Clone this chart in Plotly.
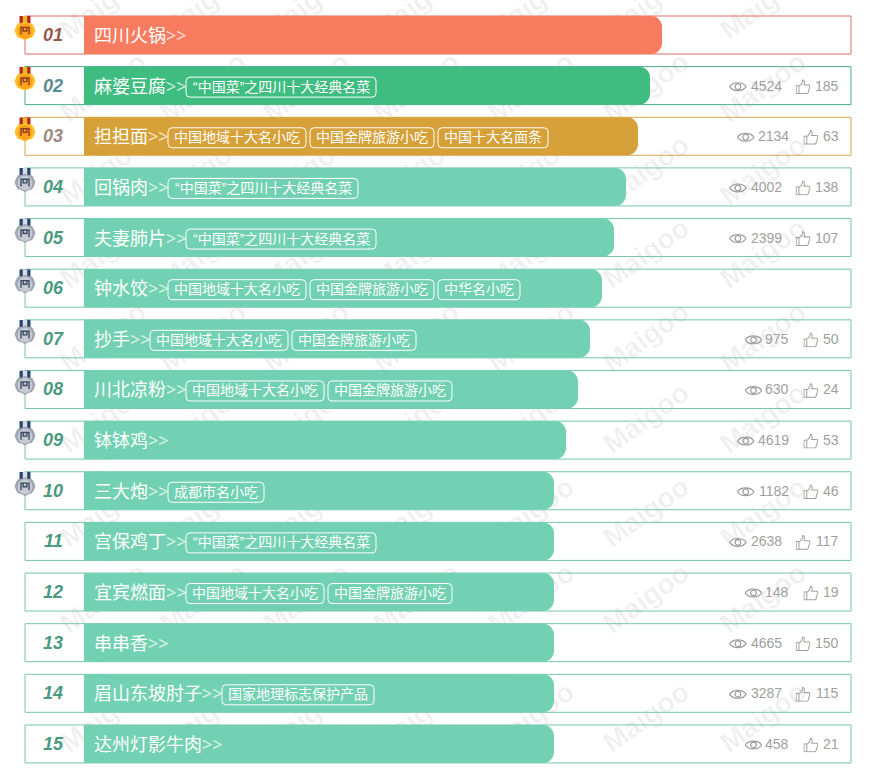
import base64
import plotly.graph_objects as go

# ---------- data ----------
ranks = ["01","02","03","04","05","06","07","08","09","10","11","12","13","14","15"]
names = ["四川火锅","麻婆豆腐","担担面","回锅肉","夫妻肺片","钟水饺","抄手","川北凉粉","钵钵鸡","三大炮",
         "宫保鸡丁","宜宾燃面","串串香","眉山东坡肘子","达州灯影牛肉"]
CAI = "“中国菜”之四川十大经典名菜"
DY = "中国地域十大名小吃"
JP = "中国金牌旅游小吃"
tags = [[],[CAI],[DY,JP,"中国十大名面条"],[CAI],[CAI],[DY,JP,"中华名小吃"],[DY,JP],[DY,JP],[],
        ["成都市名小吃"],[CAI],[DY,JP],[],["国家地理标志保护产品"],[]]
bar_values = [578,566,554,542,530,518,506,494,482,470,470,470,470,470,470]
views = [None,4524,2134,4002,2399,None,975,630,4619,1182,2638,148,4665,3287,458]
likes = [None,185,63,138,107,None,50,24,53,46,117,19,150,115,21]

TEAL = "#72d1b2"
bar_colors = ["#f77b5f","#3fbd80","#d6a138"] + [TEAL]*12
border_colors = ["#dd6f66","#46ad88","#d3a74f"] + ["#74c6ad"]*12
rank_colors = ["#96594e","#5a8a93","#9c8a82"] + ["#4a9a80"]*12

wm_x = [103,203,306,416,531,646,763]
wm_y = [4,87,170,253,337,418,512,598,717]

# ---------- layout constants (pixels) ----------
W, H = 875, 775
PITCH = 50.64
Y0 = -35/PITCH
BOX_L, BOX_W, BAR_L = 25, 826, 84
ROW_H = 38
SQUARE_END = 24
def dy(px): return px/PITCH
def py(px): return px/PITCH + Y0

rows = list(range(len(names)))
fig = go.Figure()

# watermark (drawn first so that bars cover it)
wx, wyy = [], []
for yy in wm_y:
    for xx in wm_x:
        wx.append(xx); wyy.append(py(yy))
fig.add_bar(x=[2]*len(wx), base=[v-1 for v in wx], y=wyy, orientation="h", width=0.5,
            marker=dict(color="rgba(0,0,0,0)", line=dict(width=0)),
            text=["<b>Maigoo</b>"]*len(wx), textposition="inside", insidetextanchor="middle",
            textangle=-36, constraintext="none", cliponaxis=True,
            insidetextfont=dict(family="Liberation Sans", size=28, color="rgba(0,0,0,0.06)"),
            hoverinfo="skip", showlegend=False)

# row frames
fig.add_bar(x=[BOX_W]*15, base=[BOX_L]*15, y=rows, orientation="h", width=dy(ROW_H),
            marker=dict(color="rgba(0,0,0,0)", line=dict(color=border_colors, width=1)),
            hoverinfo="skip", showlegend=False)
# coloured bars: rounded body plus a square-cornered left end
fig.add_bar(x=bar_values, base=[BAR_L]*15, y=rows, orientation="h", width=dy(ROW_H),
            marker=dict(color=bar_colors, line=dict(width=0), cornerradius=11),
            hovertext=names, hoverinfo="text", showlegend=False)
fig.add_bar(x=[SQUARE_END]*15, base=[BAR_L]*15, y=rows, orientation="h", width=dy(ROW_H),
            marker=dict(color=bar_colors, line=dict(width=0), cornerradius=0),
            hoverinfo="skip", showlegend=False)

# ---------- icons ----------
def uri(svg):
    return "data:image/svg+xml;base64," + base64.b64encode(svg.encode()).decode()

EYE = uri('<svg xmlns="http://www.w3.org/2000/svg" width="36" height="24" viewBox="0 0 18 12">'
          '<path d="M0.8 6 C4 0.8 14 0.8 17.2 6 C14 11.2 4 11.2 0.8 6 Z" fill="none" stroke="#9c9c9c" stroke-width="1.2"/>'
          '<circle cx="9" cy="6" r="2.8" fill="none" stroke="#9c9c9c" stroke-width="1.2"/></svg>')
THUMB = uri('<svg xmlns="http://www.w3.org/2000/svg" width="32" height="32" viewBox="0 0 16 16">'
            '<path d="M0.6 7 H3.6 V15.3 H0.6 Z M3.6 7.2 C6 6 7.4 4 7.4 0.8 C9.3 0.6 9.9 3 8.9 6.2 H14.2 C15.4 6.2 15.6 7.4 15.2 8.2 L13.4 14.4 C13.2 15 12.7 15.3 12 15.3 H3.6" '
            'fill="none" stroke="#a6a09c" stroke-width="1.1"/></svg>')
def medal(r1, r2, c1, c2, c3):
    return uri('<svg xmlns="http://www.w3.org/2000/svg" width="44" height="56" viewBox="0 0 22 28">'
               f'<rect x="5.5" y="0" width="11" height="12" fill="{r1}"/>'
               f'<rect x="8.8" y="0" width="4.4" height="12" fill="{r2}"/>'
               f'<path d="M11 5.5 L14.4 7 L18 7.4 L20 10.6 L21.4 14.5 L20 18.4 L18 21.6 L14.4 22.4 L11 24.4 L7.6 22.4 L4 21.6 L2 18.4 L0.6 14.5 L2 10.6 L4 7.4 L7.6 7 Z" fill="{c1}"/>'
               f'<circle cx="11" cy="15" r="7.4" fill="{c2}"/>'
               f'<path d="M7 18.6 V11.4 H15 V18.6 M9.2 11.4 V15 H12.8 V11.4" fill="none" stroke="{c3}" stroke-width="1.4"/></svg>')
GOLD = medal("#b8261c","#e7b92f","#fbc02a","#ffa11a","#8e3d22")
SILVER = medal("#2c4570","#d9dde6","#a2a6b2","#c6cad3","#3f4c66")

images, shapes, ann = [], [], []
def icon(src, x, cy, w, h):
    images.append(dict(source=src, xref="x", yref="y", x=x, y=cy, sizex=w, sizey=dy(h),
                       xanchor="left", yanchor="middle", sizing="stretch", layer="above"))
def label(text, x, cy, size, color, family, anchor="left"):
    ann.append(dict(text=text, x=x, y=cy, xref="x", yref="y", xanchor=anchor, yanchor="middle",
                    showarrow=False, font=dict(family=family, size=size, color=color),
                    borderpad=0, borderwidth=0))

CJK = "Liberation Sans, Noto Sans CJK SC"
def tag_width(t):
    return sum(5 if c in "“”" else 14 for c in t) + 12

for i in rows:
    # rank number
    label(f"<b><i>{ranks[i]}</i></b>", 53, i, 18, rank_colors[i], "Liberation Sans", "center")
    # name with chevrons
    label(names[i] + "<span style='font-family:Noto Sans;color:rgba(255,255,255,0.75)'>&gt;&gt;</span>",
          94, i + dy(-1), 18, "#ffffff", "Noto Sans CJK SC")
    # tags
    tx = 94 + 18*len(names[i]) + 20
    for t in tags[i]:
        w = tag_width(t)
        c = i + dy(1.5)
        hh, r, rr = dy(10), 4, dy(4)
        x0, x1 = tx, tx + w
        shapes.append(dict(type="path", xref="x", yref="y", layer="above",
                           path=(f"M{x0+r},{c-hh} L{x1-r},{c-hh} Q{x1},{c-hh} {x1},{c-hh+rr} "
                                 f"L{x1},{c+hh-rr} Q{x1},{c+hh} {x1-r},{c+hh} L{x0+r},{c+hh} "
                                 f"Q{x0},{c+hh} {x0},{c+hh-rr} L{x0},{c-hh+rr} Q{x0},{c-hh} {x0+r},{c-hh} Z"),
                           line=dict(color="#ffffff", width=1), fillcolor="rgba(0,0,0,0)"))
        label(t, tx + w/2, c - dy(0.5), 14, "#ffffff", CJK, "center")
        tx += w + 4
    # medal
    if i < 10:
        icon(GOLD if i < 3 else SILVER, 14, i + dy(-5), 22, 28)
    # stats
    if views[i] is not None:
        c = i
        lw = 7.8*len(str(likes[i]))
        label(str(likes[i]), 839, c, 14, "#a0a0a0", "Liberation Sans", "right")
        thumb_x = 839 - lw - 20
        icon(THUMB, thumb_x, c + dy(1), 15, 15)
        vr = thumb_x - 14
        vw = 7.8*len(str(views[i]))
        label(str(views[i]), vr, c, 14, "#a0a0a0", "Liberation Sans", "right")
        icon(EYE, vr - vw - 21.5, c + dy(1), 18, 12)

fig.update_layout(
    width=W, height=H, autosize=False, barmode="overlay",
    margin=dict(l=0, r=0, t=0, b=0, pad=0),
    paper_bgcolor="#ffffff", plot_bgcolor="#ffffff",
    showlegend=False,
    xaxis=dict(range=[0, W], visible=False, fixedrange=True),
    yaxis=dict(range=[H/PITCH + Y0, Y0], visible=False, fixedrange=True),
    images=images, shapes=shapes, annotations=ann,
)
fig.write_html("out.html", post_script="document.body.style.margin='0';document.documentElement.style.overflow='hidden';",
               config={"displayModeBar": False})
